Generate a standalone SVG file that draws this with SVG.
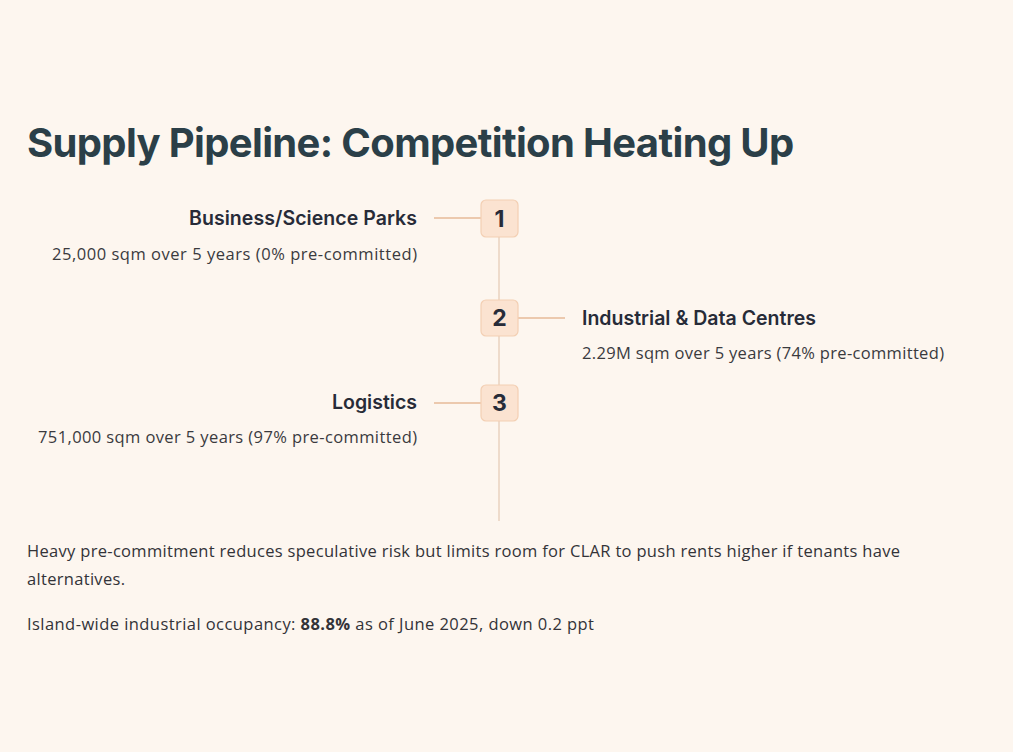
<svg xmlns="http://www.w3.org/2000/svg" width="1013" height="752" viewBox="0 0 1013 752">
<style>
.title{font-family:Inter,"Liberation Sans",sans-serif;font-weight:700;font-size:40px;fill:#2b3f48;letter-spacing:-0.65px}
.lbl{font-family:Inter,"Liberation Sans",sans-serif;font-weight:600;font-size:19.5px;fill:#272b38}
.sub{font-family:"Open Sans","Liberation Sans",sans-serif;font-size:16.5px;fill:#3a3a3e}
.body{font-family:"Open Sans","Liberation Sans",sans-serif;font-size:16.5px;fill:#333338}
.num{font-family:Inter,"Liberation Sans",sans-serif;font-weight:700;font-size:23px;fill:#272b38;text-anchor:middle}
.box{fill:#fbe3d1;stroke:#f3cfb3;stroke-width:1.2}
.conn{stroke:#ecc9ae;stroke-width:2;fill:none}
.spine{stroke:#e8d2bf;stroke-width:1.5;fill:none}
</style>
<rect width="1013" height="752" fill="#fdf6ef"/>
<text class="title" x="27" y="157">Supply Pipeline: Competition Heating Up</text>
<g id="connectors">
<line class="spine" x1="499" y1="237" x2="499" y2="521"/>
<line class="conn" x1="434" y1="218" x2="481" y2="218"/>
<line class="conn" x1="518" y1="318" x2="565" y2="318"/>
<line class="conn" x1="434" y1="403" x2="481" y2="403"/>
</g>
<g id="node1">
<rect class="box" x="481" y="200" width="37" height="37" rx="5"/>
<text class="num" x="499.5" y="227">1</text>
<text class="lbl" x="417" y="225" text-anchor="end" textLength="228" lengthAdjust="spacing">Business/Science Parks</text>
<text class="sub" x="417" y="260" text-anchor="end" textLength="365" lengthAdjust="spacing">25,000 sqm over 5 years (0% pre-committed)</text>
</g>
<g id="node2">
<rect class="box" x="481" y="300" width="37" height="36" rx="5"/>
<text class="num" x="499.5" y="326">2</text>
<text class="lbl" x="582" y="325" textLength="234" lengthAdjust="spacing">Industrial &amp; Data Centres</text>
<text class="sub" x="582" y="359" textLength="362" lengthAdjust="spacing">2.29M sqm over 5 years (74% pre-committed)</text>
</g>
<g id="node3">
<rect class="box" x="481" y="385" width="37" height="36" rx="5"/>
<text class="num" x="499.5" y="411">3</text>
<text class="lbl" x="417" y="409" text-anchor="end" textLength="85" lengthAdjust="spacing">Logistics</text>
<text class="sub" x="417" y="443" text-anchor="end" textLength="379" lengthAdjust="spacing">751,000 sqm over 5 years (97% pre-committed)</text>
</g>
<g id="notes">
<text class="body" x="27" y="557" textLength="873" lengthAdjust="spacing">Heavy pre-commitment reduces speculative risk but limits room for CLAR to push rents higher if tenants have</text>
<text class="body" x="27" y="585" textLength="98" lengthAdjust="spacing">alternatives.</text>
<text class="body" x="27" y="630" textLength="567" lengthAdjust="spacing">Island-wide industrial occupancy: <tspan font-weight="700">88.8%</tspan> as of June 2025, down 0.2 ppt</text>
</g>
</svg>
